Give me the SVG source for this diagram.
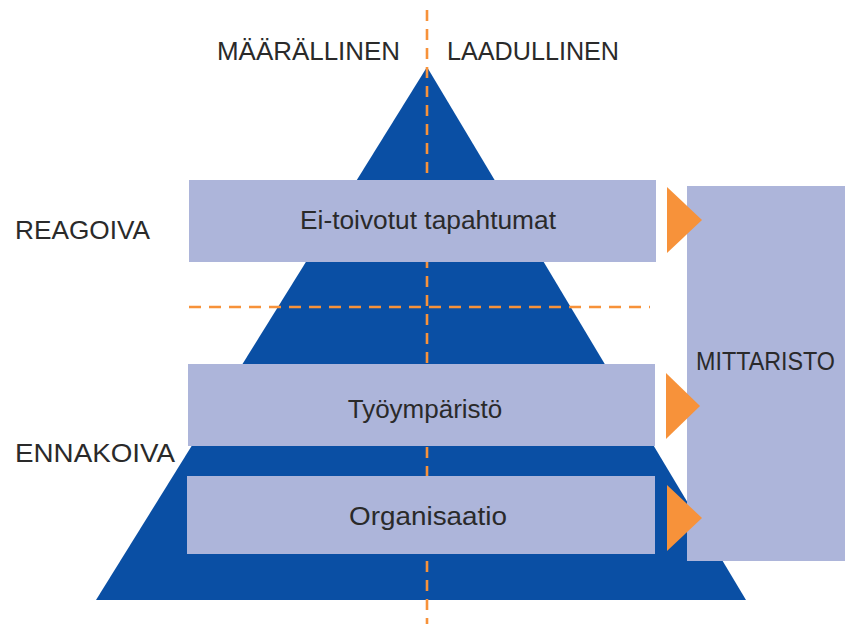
<svg xmlns="http://www.w3.org/2000/svg" width="845" height="624" viewBox="0 0 845 624">
  <defs>
    <style>
      .lbl { font-family: "Liberation Sans", Arial, sans-serif; font-size: 26px; fill: #2a2a2a; }
      .mid { text-anchor: middle; }
      .box { fill: #adb5da; }
      .dash { stroke: #f7923a; stroke-width: 2.6; fill: none; }
      .arrow { fill: #f7923a; }
    </style>
  </defs>
  <rect width="845" height="624" fill="#ffffff"/>

  <!-- pyramid -->
  <g id="pyramid">
    <polygon points="427,67 746,600 96,600" fill="#0a4fa4"/>
  </g>

  <!-- axis lines -->
  <g id="axes">
    <line class="dash" x1="427" y1="10" x2="427" y2="624" stroke-dasharray="11 8"/>
    <line class="dash" x1="189" y1="307" x2="650" y2="307" stroke-dasharray="12 8"/>
  </g>

  <!-- side labels -->
  <g id="label-maarallinen"><text class="lbl" x="217" y="60" textLength="183" lengthAdjust="spacingAndGlyphs">MÄÄRÄLLINEN</text></g>
  <g id="label-laadullinen"><text class="lbl" x="447" y="60" textLength="172" lengthAdjust="spacingAndGlyphs">LAADULLINEN</text></g>
  <g id="label-reagoiva"><text class="lbl" x="15" y="239" textLength="135" lengthAdjust="spacingAndGlyphs">REAGOIVA</text></g>
  <g id="label-ennakoiva"><text class="lbl" x="15" y="462" textLength="160" lengthAdjust="spacingAndGlyphs">ENNAKOIVA</text></g>

  <!-- levels -->
  <g id="ei-toivotut">
    <rect class="box" x="189" y="180" width="467" height="82"/>
    <text class="lbl mid" x="428" y="229" textLength="256" lengthAdjust="spacingAndGlyphs">Ei-toivotut tapahtumat</text>
  </g>
  <g id="tyoymparisto">
    <rect class="box" x="188" y="364" width="467" height="82"/>
    <text class="lbl mid" x="425" y="418">Työympäristö</text>
  </g>
  <g id="organisaatio">
    <rect class="box" x="187" y="476" width="468" height="78"/>
    <text class="lbl mid" x="428" y="525" textLength="158" lengthAdjust="spacingAndGlyphs">Organisaatio</text>
  </g>

  <!-- measurement box -->
  <g id="mittaristo">
    <rect class="box" x="687" y="186" width="158" height="375"/>
    <text class="lbl" x="696" y="370" textLength="139" lengthAdjust="spacingAndGlyphs">MITTARISTO</text>
  </g>

  <!-- arrows into the measurement box -->
  <g id="connectors">
    <polygon class="arrow" points="667,187 702,220 667,253"/>
    <polygon class="arrow" points="666,373 700,406 666,439"/>
    <polygon class="arrow" points="667,485 702,518 667,551"/>
  </g>
</svg>
